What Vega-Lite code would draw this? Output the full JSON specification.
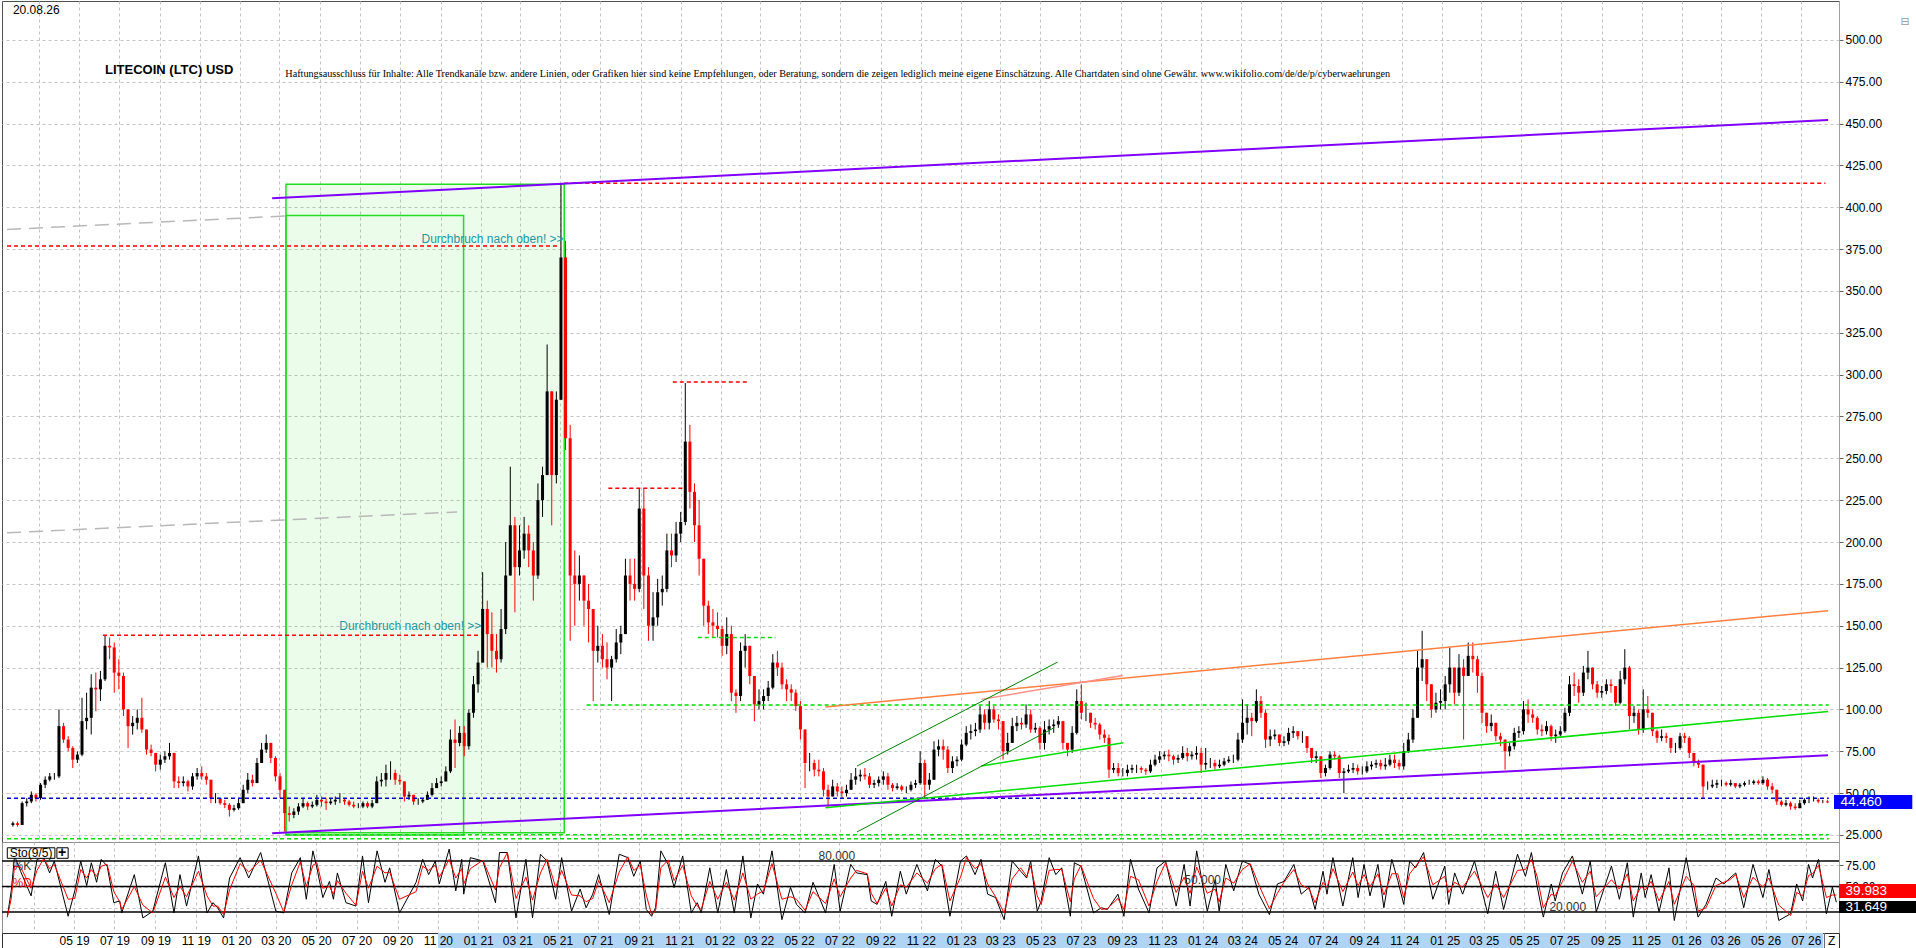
{
"$schema": "https://vega.github.io/schema/vega-lite/v6.json",
"description": "Litecoin (LTC) USD, weekly candles with trend lines and a 9/5 stochastic panel.",
"padding": 0,
"autosize": {"type": "pad"},
"background": "white",
"config": {
  "text": {"font": "Liberation Sans"},
  "axis": {"labelFont": "Liberation Sans", "labelColor": "black", "labelFontSize": 12, "gridColor": "#c4c4c4", "gridDash": [3, 3], "domainColor": "#a0a0a0", "tickColor": "#606060"}
},
"datasets": {
"px": [
{"t":"2019-01-21","o":31,"h":33,"l":30,"c":32},{"t":"2019-01-28","o":32,"h":33,"l":30,"c":31},{"t":"2019-02-04","o":31,"h":45,"l":31,"c":44},{"t":"2019-02-11","o":44,"h":47,"l":42,"c":45},
{"t":"2019-02-18","o":45,"h":51,"l":44,"c":49},{"t":"2019-02-25","o":49,"h":50,"l":45,"c":47},{"t":"2019-03-04","o":47,"h":56,"l":46,"c":55},{"t":"2019-03-11","o":55,"h":60,"l":53,"c":58},
{"t":"2019-03-18","o":58,"h":62,"l":57,"c":60},{"t":"2019-03-25","o":60,"h":62,"l":58,"c":60},{"t":"2019-04-01","o":60,"h":100,"l":59,"c":90},{"t":"2019-04-08","o":90,"h":92,"l":80,"c":82},
{"t":"2019-04-15","o":82,"h":84,"l":75,"c":77},{"t":"2019-04-22","o":77,"h":78,"l":65,"c":70},{"t":"2019-04-29","o":70,"h":75,"l":68,"c":73},{"t":"2019-05-06","o":73,"h":107,"l":72,"c":93},
{"t":"2019-05-13","o":93,"h":110,"l":88,"c":95},{"t":"2019-05-20","o":95,"h":121,"l":85,"c":113},{"t":"2019-05-27","o":113,"h":122,"l":99,"c":112},{"t":"2019-06-03","o":112,"h":123,"l":105,"c":118},
{"t":"2019-06-10","o":118,"h":144,"l":117,"c":138},{"t":"2019-06-17","o":138,"h":143,"l":130,"c":137},{"t":"2019-06-24","o":137,"h":140,"l":110,"c":122},{"t":"2019-07-01","o":122,"h":130,"l":112,"c":120},
{"t":"2019-07-08","o":120,"h":122,"l":96,"c":100},{"t":"2019-07-15","o":100,"h":100,"l":77,"c":90},{"t":"2019-07-22","o":90,"h":96,"l":85,"c":92},{"t":"2019-07-29","o":92,"h":100,"l":88,"c":95},
{"t":"2019-08-05","o":95,"h":107,"l":86,"c":88},{"t":"2019-08-12","o":88,"h":88,"l":73,"c":76},{"t":"2019-08-19","o":76,"h":79,"l":72,"c":74},{"t":"2019-08-26","o":74,"h":74,"l":63,"c":67},
{"t":"2019-09-02","o":67,"h":73,"l":64,"c":70},{"t":"2019-09-09","o":70,"h":75,"l":68,"c":72},{"t":"2019-09-16","o":72,"h":80,"l":70,"c":74},{"t":"2019-09-23","o":74,"h":74,"l":53,"c":57},
{"t":"2019-09-30","o":57,"h":60,"l":53,"c":56},{"t":"2019-10-07","o":56,"h":60,"l":54,"c":57},{"t":"2019-10-14","o":57,"h":58,"l":51,"c":54},{"t":"2019-10-21","o":54,"h":62,"l":52,"c":60},
{"t":"2019-10-28","o":60,"h":65,"l":58,"c":62},{"t":"2019-11-04","o":62,"h":66,"l":58,"c":60},{"t":"2019-11-11","o":60,"h":62,"l":55,"c":58},{"t":"2019-11-18","o":58,"h":58,"l":44,"c":47},
{"t":"2019-11-25","o":47,"h":50,"l":44,"c":47},{"t":"2019-12-02","o":47,"h":47,"l":43,"c":44},{"t":"2019-12-09","o":44,"h":46,"l":41,"c":43},{"t":"2019-12-16","o":43,"h":44,"l":36,"c":40},
{"t":"2019-12-23","o":40,"h":43,"l":39,"c":41},{"t":"2019-12-30","o":41,"h":47,"l":40,"c":44},{"t":"2020-01-06","o":44,"h":55,"l":44,"c":52},{"t":"2020-01-13","o":52,"h":62,"l":50,"c":58},
{"t":"2020-01-20","o":58,"h":61,"l":54,"c":56},{"t":"2020-01-27","o":56,"h":71,"l":56,"c":68},{"t":"2020-02-03","o":68,"h":80,"l":68,"c":76},{"t":"2020-02-10","o":76,"h":85,"l":74,"c":80},
{"t":"2020-02-17","o":80,"h":80,"l":68,"c":71},{"t":"2020-02-24","o":71,"h":72,"l":57,"c":60},{"t":"2020-03-02","o":60,"h":62,"l":47,"c":52},{"t":"2020-03-09","o":52,"h":52,"l":27,"c":38},
{"t":"2020-03-16","o":38,"h":42,"l":33,"c":37},{"t":"2020-03-23","o":37,"h":41,"l":35,"c":39},{"t":"2020-03-30","o":39,"h":44,"l":37,"c":42},{"t":"2020-04-06","o":42,"h":47,"l":41,"c":44},
{"t":"2020-04-13","o":44,"h":45,"l":40,"c":42},{"t":"2020-04-20","o":42,"h":45,"l":41,"c":43},{"t":"2020-04-27","o":43,"h":49,"l":42,"c":46},{"t":"2020-05-04","o":46,"h":48,"l":42,"c":45},
{"t":"2020-05-11","o":45,"h":47,"l":40,"c":44},{"t":"2020-05-18","o":44,"h":47,"l":43,"c":45},{"t":"2020-05-25","o":45,"h":48,"l":43,"c":46},{"t":"2020-06-01","o":46,"h":50,"l":44,"c":46},
{"t":"2020-06-08","o":46,"h":47,"l":43,"c":45},{"t":"2020-06-15","o":45,"h":46,"l":42,"c":43},{"t":"2020-06-22","o":43,"h":45,"l":41,"c":42},{"t":"2020-06-29","o":42,"h":44,"l":41,"c":42},
{"t":"2020-07-06","o":42,"h":45,"l":41,"c":44},{"t":"2020-07-13","o":44,"h":45,"l":41,"c":42},{"t":"2020-07-20","o":42,"h":46,"l":41,"c":44},{"t":"2020-07-27","o":44,"h":60,"l":44,"c":57},
{"t":"2020-08-03","o":57,"h":62,"l":54,"c":58},{"t":"2020-08-10","o":58,"h":67,"l":54,"c":62},{"t":"2020-08-17","o":62,"h":69,"l":58,"c":62},{"t":"2020-08-24","o":62,"h":64,"l":55,"c":58},
{"t":"2020-08-31","o":58,"h":61,"l":55,"c":57},{"t":"2020-09-07","o":57,"h":57,"l":45,"c":48},{"t":"2020-09-14","o":48,"h":51,"l":46,"c":49},{"t":"2020-09-21","o":49,"h":49,"l":43,"c":45},
{"t":"2020-09-28","o":45,"h":47,"l":43,"c":45},{"t":"2020-10-05","o":45,"h":47,"l":44,"c":46},{"t":"2020-10-12","o":46,"h":51,"l":46,"c":49},{"t":"2020-10-19","o":49,"h":56,"l":48,"c":53},
{"t":"2020-10-26","o":53,"h":59,"l":53,"c":56},{"t":"2020-11-02","o":56,"h":60,"l":54,"c":57},{"t":"2020-11-09","o":57,"h":66,"l":57,"c":63},{"t":"2020-11-16","o":63,"h":88,"l":62,"c":82},
{"t":"2020-11-23","o":82,"h":94,"l":65,"c":80},{"t":"2020-11-30","o":80,"h":90,"l":78,"c":86},{"t":"2020-12-07","o":86,"h":90,"l":72,"c":78},{"t":"2020-12-14","o":78,"h":100,"l":76,"c":98},
{"t":"2020-12-21","o":98,"h":120,"l":95,"c":115},{"t":"2020-12-28","o":115,"h":135,"l":110,"c":128},{"t":"2021-01-04","o":128,"h":182,"l":128,"c":160},{"t":"2021-01-11","o":160,"h":165,"l":125,"c":145},
{"t":"2021-01-18","o":145,"h":158,"l":125,"c":135},{"t":"2021-01-25","o":135,"h":145,"l":122,"c":130},{"t":"2021-02-01","o":130,"h":160,"l":128,"c":148},{"t":"2021-02-08","o":148,"h":200,"l":145,"c":180},
{"t":"2021-02-15","o":180,"h":245,"l":180,"c":210},{"t":"2021-02-22","o":210,"h":215,"l":158,"c":185},{"t":"2021-03-01","o":185,"h":210,"l":180,"c":195},{"t":"2021-03-08","o":195,"h":215,"l":190,"c":205},
{"t":"2021-03-15","o":205,"h":210,"l":185,"c":195},{"t":"2021-03-22","o":195,"h":200,"l":165,"c":180},{"t":"2021-03-29","o":180,"h":235,"l":178,"c":225},{"t":"2021-04-05","o":225,"h":245,"l":215,"c":240},
{"t":"2021-04-12","o":240,"h":318,"l":240,"c":290},{"t":"2021-04-19","o":290,"h":290,"l":210,"c":240},{"t":"2021-04-26","o":240,"h":290,"l":235,"c":285},{"t":"2021-05-03","o":285,"h":414,"l":285,"c":370},
{"t":"2021-05-10","o":370,"h":380,"l":255,"c":262},{"t":"2021-05-17","o":262,"h":270,"l":141,"c":180},{"t":"2021-05-24","o":180,"h":195,"l":150,"c":175},{"t":"2021-05-31","o":175,"h":192,"l":165,"c":180},
{"t":"2021-06-07","o":180,"h":180,"l":150,"c":165},{"t":"2021-06-14","o":165,"h":175,"l":140,"c":160},{"t":"2021-06-21","o":160,"h":160,"l":105,"c":135},{"t":"2021-06-28","o":135,"h":150,"l":128,"c":138},
{"t":"2021-07-05","o":138,"h":145,"l":125,"c":130},{"t":"2021-07-12","o":130,"h":140,"l":118,"c":125},{"t":"2021-07-19","o":125,"h":132,"l":105,"c":130},{"t":"2021-07-26","o":130,"h":148,"l":128,"c":140},
{"t":"2021-08-02","o":140,"h":150,"l":133,"c":145},{"t":"2021-08-09","o":145,"h":190,"l":145,"c":180},{"t":"2021-08-16","o":180,"h":190,"l":165,"c":175},{"t":"2021-08-23","o":175,"h":190,"l":165,"c":172},
{"t":"2021-08-30","o":172,"h":232,"l":170,"c":220},{"t":"2021-09-06","o":220,"h":232,"l":160,"c":180},{"t":"2021-09-13","o":180,"h":185,"l":141,"c":150},{"t":"2021-09-20","o":150,"h":170,"l":141,"c":155},
{"t":"2021-09-27","o":155,"h":178,"l":150,"c":170},{"t":"2021-10-04","o":170,"h":180,"l":162,"c":172},{"t":"2021-10-11","o":172,"h":205,"l":170,"c":195},{"t":"2021-10-18","o":195,"h":205,"l":185,"c":192},
{"t":"2021-10-25","o":192,"h":212,"l":188,"c":205},{"t":"2021-11-01","o":205,"h":218,"l":200,"c":212},{"t":"2021-11-08","o":212,"h":295,"l":210,"c":260},{"t":"2021-11-15","o":260,"h":270,"l":220,"c":230},
{"t":"2021-11-22","o":230,"h":235,"l":200,"c":210},{"t":"2021-11-29","o":210,"h":225,"l":180,"c":190},{"t":"2021-12-06","o":190,"h":190,"l":150,"c":162},{"t":"2021-12-13","o":162,"h":165,"l":145,"c":152},
{"t":"2021-12-20","o":152,"h":160,"l":143,"c":150},{"t":"2021-12-27","o":150,"h":158,"l":143,"c":148},{"t":"2022-01-03","o":148,"h":150,"l":132,"c":138},{"t":"2022-01-10","o":138,"h":155,"l":133,"c":145},
{"t":"2022-01-17","o":145,"h":150,"l":105,"c":110},{"t":"2022-01-24","o":110,"h":112,"l":98,"c":108},{"t":"2022-01-31","o":108,"h":140,"l":105,"c":135},{"t":"2022-02-07","o":135,"h":145,"l":125,"c":138},
{"t":"2022-02-14","o":138,"h":138,"l":115,"c":120},{"t":"2022-02-21","o":120,"h":120,"l":93,"c":103},{"t":"2022-02-28","o":103,"h":112,"l":100,"c":105},{"t":"2022-03-07","o":105,"h":112,"l":100,"c":108},
{"t":"2022-03-14","o":108,"h":117,"l":105,"c":113},{"t":"2022-03-21","o":113,"h":133,"l":112,"c":128},{"t":"2022-03-28","o":128,"h":135,"l":120,"c":125},{"t":"2022-04-04","o":125,"h":128,"l":112,"c":115},
{"t":"2022-04-11","o":115,"h":118,"l":105,"c":112},{"t":"2022-04-18","o":112,"h":115,"l":105,"c":110},{"t":"2022-04-25","o":110,"h":112,"l":99,"c":102},{"t":"2022-05-02","o":102,"h":105,"l":82,"c":88},
{"t":"2022-05-09","o":88,"h":88,"l":53,"c":68},{"t":"2022-05-16","o":68,"h":74,"l":63,"c":68},{"t":"2022-05-23","o":68,"h":70,"l":60,"c":64},{"t":"2022-05-30","o":64,"h":70,"l":60,"c":63},
{"t":"2022-06-06","o":63,"h":65,"l":48,"c":52},{"t":"2022-06-13","o":52,"h":55,"l":41,"c":48},{"t":"2022-06-20","o":48,"h":58,"l":48,"c":54},{"t":"2022-06-27","o":54,"h":56,"l":48,"c":51},
{"t":"2022-07-04","o":51,"h":54,"l":47,"c":50},{"t":"2022-07-11","o":50,"h":55,"l":48,"c":52},{"t":"2022-07-18","o":52,"h":62,"l":52,"c":58},{"t":"2022-07-25","o":58,"h":65,"l":55,"c":60},
{"t":"2022-08-01","o":60,"h":64,"l":57,"c":61},{"t":"2022-08-08","o":61,"h":65,"l":58,"c":60},{"t":"2022-08-15","o":60,"h":62,"l":53,"c":55},{"t":"2022-08-22","o":55,"h":58,"l":53,"c":56},
{"t":"2022-08-29","o":56,"h":60,"l":54,"c":58},{"t":"2022-09-05","o":58,"h":63,"l":55,"c":60},{"t":"2022-09-12","o":60,"h":62,"l":52,"c":55},{"t":"2022-09-19","o":55,"h":56,"l":51,"c":53},
{"t":"2022-09-26","o":53,"h":56,"l":52,"c":54},{"t":"2022-10-03","o":54,"h":55,"l":51,"c":52},{"t":"2022-10-10","o":52,"h":54,"l":50,"c":52},{"t":"2022-10-17","o":52,"h":57,"l":51,"c":55},
{"t":"2022-10-24","o":55,"h":58,"l":53,"c":56},{"t":"2022-10-31","o":56,"h":75,"l":55,"c":68},{"t":"2022-11-07","o":68,"h":70,"l":47,"c":55},{"t":"2022-11-14","o":55,"h":62,"l":52,"c":58},
{"t":"2022-11-21","o":58,"h":81,"l":58,"c":76},{"t":"2022-11-28","o":76,"h":82,"l":72,"c":78},{"t":"2022-12-05","o":78,"h":82,"l":70,"c":76},{"t":"2022-12-12","o":76,"h":78,"l":62,"c":65},
{"t":"2022-12-19","o":65,"h":72,"l":62,"c":69},{"t":"2022-12-26","o":69,"h":72,"l":66,"c":70},{"t":"2023-01-02","o":70,"h":82,"l":69,"c":79},{"t":"2023-01-09","o":79,"h":90,"l":78,"c":86},
{"t":"2023-01-16","o":86,"h":91,"l":82,"c":87},{"t":"2023-01-23","o":87,"h":92,"l":84,"c":88},{"t":"2023-01-30","o":88,"h":102,"l":86,"c":97},{"t":"2023-02-06","o":97,"h":100,"l":88,"c":92},
{"t":"2023-02-13","o":92,"h":105,"l":88,"c":100},{"t":"2023-02-20","o":100,"h":102,"l":92,"c":94},{"t":"2023-02-27","o":94,"h":97,"l":88,"c":93},{"t":"2023-03-06","o":93,"h":93,"l":70,"c":75},
{"t":"2023-03-13","o":75,"h":86,"l":73,"c":80},{"t":"2023-03-20","o":80,"h":95,"l":80,"c":90},{"t":"2023-03-27","o":90,"h":96,"l":87,"c":92},{"t":"2023-04-03","o":92,"h":95,"l":88,"c":91},
{"t":"2023-04-10","o":91,"h":103,"l":89,"c":97},{"t":"2023-04-17","o":97,"h":100,"l":86,"c":88},{"t":"2023-04-24","o":88,"h":92,"l":86,"c":89},{"t":"2023-05-01","o":89,"h":90,"l":76,"c":80},
{"t":"2023-05-08","o":80,"h":93,"l":76,"c":88},{"t":"2023-05-15","o":88,"h":94,"l":85,"c":90},{"t":"2023-05-22","o":90,"h":94,"l":86,"c":91},{"t":"2023-05-29","o":91,"h":96,"l":89,"c":93},
{"t":"2023-06-05","o":93,"h":93,"l":76,"c":80},{"t":"2023-06-12","o":80,"h":80,"l":72,"c":76},{"t":"2023-06-19","o":76,"h":90,"l":74,"c":86},{"t":"2023-06-26","o":86,"h":112,"l":85,"c":105},
{"t":"2023-07-03","o":105,"h":115,"l":94,"c":98},{"t":"2023-07-10","o":98,"h":104,"l":93,"c":98},{"t":"2023-07-17","o":98,"h":98,"l":89,"c":92},{"t":"2023-07-24","o":92,"h":95,"l":88,"c":91},
{"t":"2023-07-31","o":91,"h":92,"l":82,"c":85},{"t":"2023-08-07","o":85,"h":88,"l":80,"c":83},{"t":"2023-08-14","o":83,"h":85,"l":59,"c":64},{"t":"2023-08-21","o":64,"h":68,"l":62,"c":65},
{"t":"2023-08-28","o":65,"h":68,"l":60,"c":62},{"t":"2023-09-04","o":62,"h":65,"l":60,"c":62},{"t":"2023-09-11","o":62,"h":67,"l":60,"c":64},{"t":"2023-09-18","o":64,"h":67,"l":62,"c":65},
{"t":"2023-09-25","o":65,"h":67,"l":62,"c":65},{"t":"2023-10-02","o":65,"h":66,"l":62,"c":64},{"t":"2023-10-09","o":64,"h":65,"l":61,"c":63},{"t":"2023-10-16","o":63,"h":70,"l":62,"c":67},
{"t":"2023-10-23","o":67,"h":73,"l":66,"c":70},{"t":"2023-10-30","o":70,"h":75,"l":68,"c":72},{"t":"2023-11-06","o":72,"h":75,"l":70,"c":73},{"t":"2023-11-13","o":73,"h":76,"l":69,"c":72},
{"t":"2023-11-20","o":72,"h":73,"l":67,"c":70},{"t":"2023-11-27","o":70,"h":73,"l":68,"c":71},{"t":"2023-12-04","o":71,"h":78,"l":70,"c":74},{"t":"2023-12-11","o":74,"h":77,"l":69,"c":72},
{"t":"2023-12-18","o":72,"h":75,"l":70,"c":73},{"t":"2023-12-25","o":73,"h":78,"l":70,"c":74},{"t":"2024-01-01","o":74,"h":77,"l":62,"c":67},{"t":"2024-01-08","o":67,"h":77,"l":64,"c":68},
{"t":"2024-01-15","o":68,"h":71,"l":65,"c":68},{"t":"2024-01-22","o":68,"h":70,"l":64,"c":66},{"t":"2024-01-29","o":66,"h":70,"l":65,"c":67},{"t":"2024-02-05","o":67,"h":71,"l":66,"c":69},
{"t":"2024-02-12","o":69,"h":72,"l":68,"c":70},{"t":"2024-02-19","o":70,"h":73,"l":68,"c":70},{"t":"2024-02-26","o":70,"h":86,"l":69,"c":82},{"t":"2024-03-04","o":82,"h":106,"l":80,"c":92},
{"t":"2024-03-11","o":92,"h":103,"l":85,"c":95},{"t":"2024-03-18","o":95,"h":98,"l":84,"c":93},{"t":"2024-03-25","o":93,"h":112,"l":92,"c":105},{"t":"2024-04-01","o":105,"h":108,"l":95,"c":98},
{"t":"2024-04-08","o":98,"h":100,"l":77,"c":82},{"t":"2024-04-15","o":82,"h":88,"l":78,"c":84},{"t":"2024-04-22","o":84,"h":88,"l":82,"c":85},{"t":"2024-04-29","o":85,"h":85,"l":78,"c":80},
{"t":"2024-05-06","o":80,"h":84,"l":78,"c":81},{"t":"2024-05-13","o":81,"h":89,"l":79,"c":86},{"t":"2024-05-20","o":86,"h":90,"l":83,"c":87},{"t":"2024-05-27","o":87,"h":87,"l":82,"c":84},
{"t":"2024-06-03","o":84,"h":87,"l":80,"c":84},{"t":"2024-06-10","o":84,"h":84,"l":74,"c":77},{"t":"2024-06-17","o":77,"h":77,"l":68,"c":71},{"t":"2024-06-24","o":71,"h":75,"l":68,"c":72},
{"t":"2024-07-01","o":72,"h":72,"l":59,"c":62},{"t":"2024-07-08","o":62,"h":67,"l":60,"c":65},{"t":"2024-07-15","o":65,"h":75,"l":64,"c":73},{"t":"2024-07-22","o":73,"h":75,"l":70,"c":72},
{"t":"2024-07-29","o":72,"h":73,"l":59,"c":62},{"t":"2024-08-05","o":62,"h":65,"l":50,"c":63},{"t":"2024-08-12","o":63,"h":67,"l":62,"c":64},{"t":"2024-08-19","o":64,"h":68,"l":62,"c":65},
{"t":"2024-08-26","o":65,"h":67,"l":61,"c":63},{"t":"2024-09-02","o":63,"h":66,"l":61,"c":63},{"t":"2024-09-09","o":63,"h":69,"l":62,"c":66},{"t":"2024-09-16","o":66,"h":69,"l":64,"c":67},
{"t":"2024-09-23","o":67,"h":70,"l":65,"c":68},{"t":"2024-09-30","o":68,"h":70,"l":64,"c":66},{"t":"2024-10-07","o":66,"h":71,"l":64,"c":67},{"t":"2024-10-14","o":67,"h":73,"l":66,"c":70},
{"t":"2024-10-21","o":70,"h":73,"l":65,"c":68},{"t":"2024-10-28","o":68,"h":70,"l":64,"c":66},{"t":"2024-11-04","o":66,"h":80,"l":64,"c":75},{"t":"2024-11-11","o":75,"h":86,"l":74,"c":82},
{"t":"2024-11-18","o":82,"h":100,"l":80,"c":95},{"t":"2024-11-25","o":95,"h":135,"l":95,"c":125},{"t":"2024-12-02","o":125,"h":147,"l":117,"c":130},{"t":"2024-12-09","o":130,"h":130,"l":105,"c":115},
{"t":"2024-12-16","o":115,"h":115,"l":95,"c":100},{"t":"2024-12-23","o":100,"h":110,"l":98,"c":104},{"t":"2024-12-30","o":104,"h":112,"l":100,"c":105},{"t":"2025-01-06","o":105,"h":120,"l":100,"c":115},
{"t":"2025-01-13","o":115,"h":137,"l":110,"c":125},{"t":"2025-01-20","o":125,"h":125,"l":103,"c":110},{"t":"2025-01-27","o":110,"h":133,"l":108,"c":125},{"t":"2025-02-03","o":125,"h":130,"l":82,"c":120},
{"t":"2025-02-10","o":120,"h":140,"l":120,"c":132},{"t":"2025-02-17","o":132,"h":140,"l":122,"c":130},{"t":"2025-02-24","o":130,"h":132,"l":110,"c":120},{"t":"2025-03-03","o":120,"h":122,"l":92,"c":98},
{"t":"2025-03-10","o":98,"h":98,"l":86,"c":90},{"t":"2025-03-17","o":90,"h":97,"l":87,"c":92},{"t":"2025-03-24","o":92,"h":92,"l":81,"c":84},{"t":"2025-03-31","o":84,"h":86,"l":78,"c":82},
{"t":"2025-04-07","o":82,"h":82,"l":64,"c":75},{"t":"2025-04-14","o":75,"h":80,"l":72,"c":78},{"t":"2025-04-21","o":78,"h":89,"l":76,"c":86},{"t":"2025-04-28","o":86,"h":90,"l":83,"c":87},
{"t":"2025-05-05","o":87,"h":105,"l":85,"c":100},{"t":"2025-05-12","o":100,"h":106,"l":92,"c":97},{"t":"2025-05-19","o":97,"h":100,"l":92,"c":95},{"t":"2025-05-26","o":95,"h":96,"l":85,"c":88},
{"t":"2025-06-02","o":88,"h":91,"l":84,"c":87},{"t":"2025-06-09","o":87,"h":93,"l":85,"c":90},{"t":"2025-06-16","o":90,"h":91,"l":81,"c":84},{"t":"2025-06-23","o":84,"h":88,"l":80,"c":85},
{"t":"2025-06-30","o":85,"h":90,"l":84,"c":87},{"t":"2025-07-07","o":87,"h":101,"l":86,"c":98},{"t":"2025-07-14","o":98,"h":120,"l":96,"c":115},{"t":"2025-07-21","o":115,"h":122,"l":108,"c":114},
{"t":"2025-07-28","o":114,"h":118,"l":104,"c":110},{"t":"2025-08-04","o":110,"h":126,"l":108,"c":122},{"t":"2025-08-11","o":122,"h":135,"l":118,"c":125},{"t":"2025-08-18","o":125,"h":125,"l":112,"c":115},
{"t":"2025-08-25","o":115,"h":117,"l":107,"c":110},{"t":"2025-09-01","o":110,"h":114,"l":107,"c":111},{"t":"2025-09-08","o":111,"h":118,"l":109,"c":115},{"t":"2025-09-15","o":115,"h":118,"l":110,"c":114},
{"t":"2025-09-22","o":114,"h":114,"l":102,"c":104},{"t":"2025-09-29","o":104,"h":123,"l":103,"c":118},{"t":"2025-10-06","o":118,"h":136,"l":115,"c":125},{"t":"2025-10-13","o":125,"h":126,"l":88,"c":96},
{"t":"2025-10-20","o":96,"h":102,"l":92,"c":98},{"t":"2025-10-27","o":98,"h":100,"l":85,"c":88},{"t":"2025-11-03","o":88,"h":112,"l":86,"c":100},{"t":"2025-11-10","o":100,"h":108,"l":95,"c":98},
{"t":"2025-11-17","o":98,"h":98,"l":84,"c":87},{"t":"2025-11-24","o":87,"h":88,"l":80,"c":83},{"t":"2025-12-01","o":83,"h":88,"l":81,"c":84},{"t":"2025-12-08","o":84,"h":86,"l":80,"c":83},
{"t":"2025-12-15","o":83,"h":83,"l":74,"c":77},{"t":"2025-12-22","o":77,"h":80,"l":74,"c":77},{"t":"2025-12-29","o":77,"h":86,"l":76,"c":84},{"t":"2026-01-05","o":84,"h":86,"l":80,"c":83},
{"t":"2026-01-12","o":83,"h":84,"l":71,"c":74},{"t":"2026-01-19","o":74,"h":74,"l":66,"c":68},{"t":"2026-01-26","o":68,"h":70,"l":65,"c":67},{"t":"2026-02-02","o":67,"h":67,"l":47,"c":54},
{"t":"2026-02-09","o":54,"h":57,"l":52,"c":54},{"t":"2026-02-16","o":54,"h":58,"l":53,"c":55},{"t":"2026-02-23","o":55,"h":58,"l":53,"c":56},{"t":"2026-03-02","o":56,"h":58,"l":54,"c":56},
{"t":"2026-03-09","o":56,"h":57,"l":54,"c":55},{"t":"2026-03-16","o":55,"h":58,"l":54,"c":56},{"t":"2026-03-23","o":56,"h":56,"l":53,"c":54},{"t":"2026-03-30","o":54,"h":56,"l":53,"c":55},
{"t":"2026-04-06","o":55,"h":57,"l":54,"c":56},{"t":"2026-04-13","o":56,"h":58,"l":55,"c":56},{"t":"2026-04-20","o":56,"h":58,"l":55,"c":57},{"t":"2026-04-27","o":57,"h":58,"l":55,"c":56},
{"t":"2026-05-04","o":56,"h":60,"l":55,"c":58},{"t":"2026-05-11","o":58,"h":59,"l":52,"c":54},{"t":"2026-05-18","o":54,"h":56,"l":50,"c":52},{"t":"2026-05-25","o":52,"h":52,"l":43,"c":45},
{"t":"2026-06-01","o":45,"h":46,"l":42,"c":43},{"t":"2026-06-08","o":43,"h":46,"l":42,"c":44},{"t":"2026-06-15","o":44,"h":45,"l":40,"c":42},{"t":"2026-06-22","o":42,"h":44,"l":40,"c":41},
{"t":"2026-06-29","o":41,"h":46,"l":41,"c":44},{"t":"2026-07-06","o":44,"h":47,"l":43,"c":46},{"t":"2026-07-13","o":46,"h":48,"l":44,"c":46},{"t":"2026-07-20","o":46,"h":48,"l":45,"c":46},
{"t":"2026-07-27","o":46,"h":47,"l":44,"c":45},{"t":"2026-08-03","o":45,"h":46,"l":44,"c":45},{"t":"2026-08-10","o":45,"h":46,"l":44,"c":44.46}
],
"sto": [
{"t":"2019-01-20","k":14,"d":14},{"t":"2019-01-26","k":45,"d":36},{"t":"2019-01-31","k":86,"d":74},{"t":"2019-02-09","k":68,"d":73},{"t":"2019-02-25","k":39,"d":48},{"t":"2019-03-06","k":82,"d":69},
{"t":"2019-03-16","k":84,"d":83},{"t":"2019-03-25","k":66,"d":71},{"t":"2019-04-01","k":80,"d":76},{"t":"2019-04-22","k":15,"d":35},{"t":"2019-05-02","k":45,"d":36},{"t":"2019-05-11","k":80,"d":70},
{"t":"2019-05-20","k":51,"d":60},{"t":"2019-05-27","k":78,"d":70},{"t":"2019-06-04","k":55,"d":62},{"t":"2019-06-11","k":82,"d":74},{"t":"2019-06-20","k":74,"d":76},{"t":"2019-06-30","k":31,"d":44},
{"t":"2019-07-09","k":33,"d":32},{"t":"2019-07-12","k":19,"d":23},{"t":"2019-07-31","k":64,"d":50},{"t":"2019-08-13","k":13,"d":28},{"t":"2019-08-28","k":21,"d":19},{"t":"2019-09-16","k":78,"d":61},
{"t":"2019-09-29","k":19,"d":37},{"t":"2019-10-08","k":64,"d":50},{"t":"2019-10-18","k":27,"d":38},{"t":"2019-11-05","k":86,"d":68},{"t":"2019-11-18","k":19,"d":39},{"t":"2019-11-27","k":31,"d":27},
{"t":"2019-12-04","k":25,"d":27},{"t":"2019-12-13","k":13,"d":17},{"t":"2019-12-22","k":60,"d":46},{"t":"2020-01-07","k":84,"d":77},{"t":"2020-01-20","k":60,"d":67},{"t":"2020-02-07","k":90,"d":81},
{"t":"2020-03-01","k":21,"d":42},{"t":"2020-03-13","k":19,"d":20},{"t":"2020-03-25","k":66,"d":52},{"t":"2020-04-07","k":84,"d":79},{"t":"2020-04-16","k":35,"d":50},{"t":"2020-04-26","k":92,"d":75},
{"t":"2020-05-02","k":72,"d":78},{"t":"2020-05-11","k":37,"d":48},{"t":"2020-05-21","k":56,"d":50},{"t":"2020-05-27","k":35,"d":41},{"t":"2020-06-02","k":66,"d":57},{"t":"2020-06-15","k":31,"d":42},
{"t":"2020-06-30","k":27,"d":28},{"t":"2020-07-10","k":86,"d":68},{"t":"2020-07-19","k":31,"d":48},{"t":"2020-08-01","k":92,"d":74},{"t":"2020-08-13","k":55,"d":66},{"t":"2020-08-20","k":72,"d":67},
{"t":"2020-09-04","k":19,"d":35},{"t":"2020-09-29","k":55,"d":44},{"t":"2020-10-09","k":82,"d":74},{"t":"2020-10-18","k":64,"d":69},{"t":"2020-10-28","k":80,"d":75},{"t":"2020-11-03","k":53,"d":61},
{"t":"2020-11-18","k":94,"d":82},{"t":"2020-11-28","k":45,"d":60},{"t":"2020-12-07","k":82,"d":71},{"t":"2020-12-10","k":41,"d":53},{"t":"2020-12-20","k":84,"d":71},{"t":"2021-01-08","k":80,"d":81},
{"t":"2021-01-27","k":31,"d":46},{"t":"2021-02-02","k":90,"d":72},{"t":"2021-02-14","k":90,"d":90},{"t":"2021-02-27","k":13,"d":36},{"t":"2021-03-14","k":82,"d":61},{"t":"2021-03-24","k":13,"d":34},
{"t":"2021-04-05","k":88,"d":66},{"t":"2021-04-15","k":80,"d":82},{"t":"2021-04-28","k":35,"d":49},{"t":"2021-05-07","k":84,"d":69},{"t":"2021-05-22","k":21,"d":40},{"t":"2021-06-04","k":47,"d":39},
{"t":"2021-06-13","k":25,"d":32},{"t":"2021-06-23","k":41,"d":36},{"t":"2021-07-02","k":64,"d":57},{"t":"2021-07-18","k":17,"d":31},{"t":"2021-08-02","k":88,"d":67},{"t":"2021-08-15","k":84,"d":85},
{"t":"2021-08-24","k":62,"d":69},{"t":"2021-09-03","k":80,"d":75},{"t":"2021-09-12","k":23,"d":40},{"t":"2021-09-20","k":15,"d":17},{"t":"2021-09-26","k":25,"d":22},{"t":"2021-10-04","k":92,"d":72},
{"t":"2021-10-15","k":76,"d":81},{"t":"2021-10-24","k":49,"d":57},{"t":"2021-11-06","k":86,"d":75},{"t":"2021-11-19","k":19,"d":39},{"t":"2021-11-28","k":31,"d":27},{"t":"2021-12-04","k":19,"d":23},
{"t":"2021-12-17","k":72,"d":56},{"t":"2021-12-29","k":19,"d":35},{"t":"2022-01-11","k":70,"d":55},{"t":"2022-01-23","k":19,"d":34},{"t":"2022-02-05","k":86,"d":66},{"t":"2022-02-17","k":13,"d":35},
{"t":"2022-02-27","k":53,"d":41},{"t":"2022-03-08","k":41,"d":45},{"t":"2022-03-21","k":92,"d":77},{"t":"2022-04-05","k":11,"d":35},{"t":"2022-04-18","k":49,"d":38},{"t":"2022-04-27","k":29,"d":35},
{"t":"2022-05-10","k":19,"d":22},{"t":"2022-05-22","k":55,"d":44},{"t":"2022-06-10","k":19,"d":30},{"t":"2022-06-23","k":76,"d":59},{"t":"2022-07-02","k":21,"d":38},{"t":"2022-07-18","k":76,"d":60},
{"t":"2022-07-27","k":66,"d":69},{"t":"2022-08-12","k":64,"d":65},{"t":"2022-08-18","k":33,"d":42},{"t":"2022-08-27","k":29,"d":30},{"t":"2022-09-09","k":56,"d":48},{"t":"2022-09-18","k":15,"d":27},
{"t":"2022-10-01","k":68,"d":52},{"t":"2022-10-10","k":41,"d":49},{"t":"2022-10-26","k":76,"d":66},{"t":"2022-11-11","k":45,"d":54},{"t":"2022-11-23","k":82,"d":71},{"t":"2022-12-03","k":74,"d":76},
{"t":"2022-12-15","k":15,"d":33},{"t":"2022-12-31","k":80,"d":61},{"t":"2023-01-09","k":86,"d":84},{"t":"2023-01-22","k":64,"d":71},{"t":"2023-01-31","k":82,"d":77},{"t":"2023-02-10","k":41,"d":53},
{"t":"2023-02-22","k":37,"d":38},{"t":"2023-03-07","k":11,"d":19},{"t":"2023-03-19","k":80,"d":59},{"t":"2023-04-01","k":68,"d":72},{"t":"2023-04-10","k":60,"d":62},{"t":"2023-04-16","k":80,"d":74},
{"t":"2023-04-26","k":21,"d":39},{"t":"2023-05-02","k":33,"d":29},{"t":"2023-05-14","k":84,"d":69},{"t":"2023-05-24","k":64,"d":70},{"t":"2023-06-02","k":72,"d":70},{"t":"2023-06-15","k":15,"d":32},
{"t":"2023-06-21","k":78,"d":59},{"t":"2023-07-01","k":74,"d":75},{"t":"2023-07-20","k":19,"d":36},{"t":"2023-08-01","k":25,"d":23},{"t":"2023-08-10","k":23,"d":24},{"t":"2023-08-26","k":41,"d":36},
{"t":"2023-09-04","k":15,"d":23},{"t":"2023-09-14","k":82,"d":62},{"t":"2023-09-26","k":47,"d":58},{"t":"2023-10-12","k":19,"d":27},{"t":"2023-10-24","k":72,"d":56},{"t":"2023-11-06","k":80,"d":78},
{"t":"2023-11-22","k":27,"d":43},{"t":"2023-12-04","k":76,"d":61},{"t":"2023-12-13","k":27,"d":42},{"t":"2023-12-23","k":92,"d":73},{"t":"2024-01-08","k":21,"d":42},{"t":"2024-01-20","k":58,"d":47},
{"t":"2024-01-26","k":21,"d":32},{"t":"2024-02-05","k":76,"d":60},{"t":"2024-02-17","k":45,"d":54},{"t":"2024-03-01","k":80,"d":70},{"t":"2024-03-13","k":76,"d":77},{"t":"2024-03-26","k":41,"d":52},
{"t":"2024-04-11","k":17,"d":24},{"t":"2024-04-23","k":53,"d":42},{"t":"2024-05-03","k":56,"d":55},{"t":"2024-05-18","k":76,"d":70},{"t":"2024-05-29","k":41,"d":52},{"t":"2024-06-10","k":49,"d":47},
{"t":"2024-06-19","k":23,"d":31},{"t":"2024-07-01","k":68,"d":55},{"t":"2024-07-07","k":41,"d":49},{"t":"2024-07-16","k":84,"d":71},{"t":"2024-07-31","k":27,"d":44},{"t":"2024-08-15","k":84,"d":67},
{"t":"2024-08-23","k":37,"d":51},{"t":"2024-09-01","k":76,"d":64},{"t":"2024-09-10","k":39,"d":50},{"t":"2024-09-22","k":76,"d":65},{"t":"2024-10-01","k":25,"d":40},{"t":"2024-10-13","k":82,"d":65},
{"t":"2024-10-22","k":57,"d":65},{"t":"2024-10-31","k":29,"d":37},{"t":"2024-11-09","k":80,"d":65},{"t":"2024-11-18","k":72,"d":74},{"t":"2024-11-30","k":90,"d":85},{"t":"2024-12-14","k":35,"d":52},
{"t":"2025-01-01","k":74,"d":62},{"t":"2025-01-07","k":29,"d":43},{"t":"2025-01-16","k":66,"d":55},{"t":"2025-01-28","k":41,"d":49},{"t":"2025-02-15","k":80,"d":68},{"t":"2025-03-07","k":18,"d":37},
{"t":"2025-03-19","k":68,"d":53},{"t":"2025-03-31","k":23,"d":37},{"t":"2025-04-21","k":88,"d":69},{"t":"2025-05-03","k":62,"d":70},{"t":"2025-05-12","k":90,"d":82},{"t":"2025-05-21","k":49,"d":61},
{"t":"2025-05-30","k":14,"d":25},{"t":"2025-06-11","k":53,"d":41},{"t":"2025-06-17","k":33,"d":39},{"t":"2025-06-28","k":66,"d":56},{"t":"2025-07-13","k":86,"d":80},{"t":"2025-07-28","k":41,"d":55},
{"t":"2025-08-09","k":80,"d":68},{"t":"2025-08-18","k":20,"d":38},{"t":"2025-09-10","k":74,"d":58},{"t":"2025-09-22","k":35,"d":47},{"t":"2025-10-04","k":78,"d":65},{"t":"2025-10-13","k":14,"d":33},
{"t":"2025-10-25","k":66,"d":50},{"t":"2025-10-31","k":37,"d":46},{"t":"2025-11-09","k":64,"d":56},{"t":"2025-11-21","k":20,"d":33},{"t":"2025-12-06","k":72,"d":56},{"t":"2025-12-14","k":10,"d":29},
{"t":"2026-01-01","k":84,"d":62},{"t":"2026-01-13","k":37,"d":51},{"t":"2026-01-19","k":14,"d":21},{"t":"2026-01-31","k":29,"d":25},{"t":"2026-02-15","k":60,"d":51},{"t":"2026-02-27","k":53,"d":55},
{"t":"2026-03-08","k":60,"d":58},{"t":"2026-03-17","k":66,"d":64},{"t":"2026-03-29","k":25,"d":37},{"t":"2026-04-12","k":76,"d":61},{"t":"2026-04-27","k":37,"d":49},{"t":"2026-05-06","k":70,"d":60},
{"t":"2026-05-21","k":10,"d":28},{"t":"2026-06-08","k":18,"d":16},{"t":"2026-06-17","k":53,"d":43},{"t":"2026-06-26","k":33,"d":39},{"t":"2026-07-05","k":76,"d":63},{"t":"2026-07-11","k":60,"d":65},
{"t":"2026-07-20","k":82,"d":75},{"t":"2026-08-01","k":18,"d":37},{"t":"2026-08-10","k":49,"d":40},{"t":"2026-08-16","k":31.6,"d":40}
],
"seg": [
{"id":"P1","g":"pur","t":"2020-02-19","p":405.3},{"id":"P1","g":"pur","t":"2026-08-11","p":452.1},
{"id":"P2","g":"pur","t":"2020-02-19","p":26.0},{"id":"P2","g":"pur","t":"2026-08-11","p":72.6},
{"id":"O1","g":"ora","t":"2022-06-09","p":101.5},{"id":"O1","g":"ora","t":"2026-08-11","p":159.0},
{"id":"S1","g":"sal","t":"2023-02-01","p":106},{"id":"S1","g":"sal","t":"2023-09-04","p":120.3},
{"id":"G1","g":"grn","t":"2022-06-09","p":41.3},{"id":"G1","g":"grn","t":"2026-08-11","p":98.8},
{"id":"G2","g":"grn","t":"2023-02-01","p":66.2},{"id":"G2","g":"grn","t":"2023-09-05","p":80.1},
{"id":"D1","g":"dg","t":"2022-07-27","p":66.2},{"id":"D1","g":"dg","t":"2023-05-28","p":128.3},
{"id":"D2","g":"dg","t":"2022-07-27","p":26.8},{"id":"D2","g":"dg","t":"2023-05-23","p":89.1},
{"id":"R1","g":"red","t":"2021-05-08","p":414.3},{"id":"R1","g":"red","t":"2026-08-07","p":414.3},
{"id":"R2","g":"red","t":"2019-01-12","p":376.8},{"id":"R2","g":"red","t":"2021-05-02","p":376.8},
{"id":"R3","g":"red","t":"2019-06-07","p":144.3},{"id":"R3","g":"red","t":"2020-12-30","p":144.3},
{"id":"R4","g":"red","t":"2021-07-14","p":232.1},{"id":"R4","g":"red","t":"2021-11-04","p":232.1},
{"id":"R5","g":"red","t":"2021-10-20","p":295.6},{"id":"R5","g":"red","t":"2022-02-11","p":295.6},
{"id":"E1","g":"gdot","t":"2021-06-11","p":102.6},{"id":"E1","g":"gdot","t":"2026-08-12","p":102.6},
{"id":"E2","g":"gdot","t":"2021-11-27","p":143},{"id":"E2","g":"gdot","t":"2022-03-25","p":143},
{"id":"E3","g":"gdot","t":"2020-03-11","p":25.2},{"id":"E3","g":"gdot","t":"2026-08-12","p":25.2},
{"id":"E4","g":"gdot","t":"2019-01-12","p":22.7},{"id":"E4","g":"gdot","t":"2026-08-12","p":22.7},
{"id":"B1","g":"blue","t":"2019-01-12","p":46.9},{"id":"B1","g":"blue","t":"2026-08-12","p":46.9},
{"id":"Y1","g":"gray","t":"2019-01-12","p":386.7},{"id":"Y1","g":"gray","t":"2020-03-12","p":394.8},
{"id":"Y2","g":"gray","t":"2019-01-12","p":205.5},{"id":"Y2","g":"gray","t":"2020-11-26","p":218}
],
"box": [
{"g":"gbox1","t":"2020-03-11","t2":"2021-05-08","p":26.3,"p2":413.7},
{"g":"gbox2","t":"2020-03-11","t2":"2020-12-06","p":25,"p2":395},
{"g":"pbox","t":"2026-08-20","t2":"2026-12-17","p":40.5,"p2":48.9}
],
"note": [
{"g":"date","t":"2019-01-21","p":517.8,"s":"20.08.26"},
{"g":"title","t":"2019-06-10","p":481.8,"s":"LITECOIN (LTC) USD"},
{"g":"disc","t":"2020-03-10","p":479.8,"s":"Haftungsausschluss für Inhalte: Alle Trendkanäle bzw. andere Linien, oder Grafiken hier sind keine Empfehlungen, oder Beratung, sondern die zeigen lediglich meine eigene Einschätzung. Alle Chartdaten sind ohne Gewähr.  www.wikifolio.com/de/de/p/cyberwaehrungen"},
{"g":"dbr","t":"2021-05-07","p":381.2,"s":"Durchbruch nach oben! >>"},
{"g":"dbr","t":"2021-01-02","p":149.8,"s":"Durchbruch nach oben! >>"},
{"g":"price","t":"2026-08-30","p":44.7,"s":"44.460"},
{"g":"icon","t":"2026-12-06","p":510.7,"s":"⊟"}
],
"lv": [{"v":80},{"v":50},{"v":20}],
"sbox": [
{"g":"wbox","t":"2019-01-20","t2":"2019-04-02","v":83.2,"v2":95.6},
{"g":"wbox","t":"2019-04-05","t2":"2019-04-22","v":83.2,"v2":95.6},
{"g":"rbox","t":"2026-08-20","t2":"2026-12-17","v":36.5,"v2":52.9},
{"g":"kbox","t":"2026-08-20","t2":"2026-12-17","v":18.8,"v2":32.9}
],
"snote": [
{"g":"lvl","t":"2022-06-27","v":85.9,"s":"80.000"},
{"g":"lvl","t":"2024-01-01","v":57.3,"s":"50.000"},
{"g":"lvl","t":"2025-07-06","v":26.2,"s":"20.000"},
{"g":"sto","t":"2019-02-25","v":89.4,"s":"Sto(9/5)"},
{"g":"plus","t":"2019-04-13","v":89.4,"s":"+"},
{"g":"k","t":"2019-01-28","v":74.1,"s":"%K"},
{"g":"d","t":"2019-01-28","v":54.5,"s":"%D"},
{"g":"val","t":"2026-08-30","v":44.7,"s":"39.983"},
{"g":"val","t":"2026-08-30","v":25.9,"s":"31.649"}
],
"band": [{"t":"2020-11-01","t2":"2026-07-27"}],
"zsep": [{"t":"2026-07-29"}],
"snote2": [{"t":"2026-08-09","s":"Z"}]
},
"vconcat": [
{
  "width": 1837, "height": 841,
  "view": {"stroke": "#505050"},
  "encoding": {
    "x": {"field": "t", "type": "temporal", "title": null,
      "scale": {"type": "utc", "domain": [{"year": 2019, "month": 1, "date": 12, "utc": true}, {"year": 2026, "month": 8, "date": 20, "utc": true}]},
      "axis": {"labels": false, "ticks": false, "domain": false, "grid": true, "tickCount": {"interval": "month", "step": 2}, "minExtent": 0, "maxExtent": 0}}
  },
  "layer": [
    {"data": {"name": "box"}, "transform": [{"filter": "datum.g == 'gbox1'"}],
     "mark": {"type": "rect", "fill": "#22dd22", "fillOpacity": 0.09, "stroke": "#22dd22", "strokeWidth": 1.5},
     "encoding": {"x2": {"field": "t2"},
       "y": {"field": "p", "type": "quantitative", "title": null,
         "scale": {"domain": [20.8, 523.2], "nice": false, "zero": false},
         "axis": {"orient": "right", "values": [25,50,75,100,125,150,175,200,225,250,275,300,325,350,375,400,425,450,475,500],
           "labelExpr": "datum.value == 25 ? '25.000' : format(datum.value, '.2f')", "grid": true, "tickSize": 4, "labelPadding": 2, "domainColor": "#a0a0a0"}},
       "y2": {"field": "p2"}}},
    {"data": {"name": "box"}, "transform": [{"filter": "datum.g == 'gbox2'"}],
     "mark": {"type": "rect", "fill": null, "stroke": "#22dd22", "strokeWidth": 1.5},
     "encoding": {"x2": {"field": "t2"}, "y": {"field": "p", "type": "quantitative", "title": null}, "y2": {"field": "p2"}}},
    {"data": {"name": "seg"}, "transform": [{"filter": "datum.g == 'gray'"}],
     "mark": {"type": "line", "color": "#b8b8b8", "strokeWidth": 1.5, "strokeDash": [14, 8]},
     "encoding": {"y": {"field": "p", "type": "quantitative", "title": null}, "detail": {"field": "id"}}},
    {"data": {"name": "px"},
     "mark": {"type": "rule", "strokeWidth": 1},
     "encoding": {"y": {"field": "l", "type": "quantitative", "title": null}, "y2": {"field": "h"},
       "color": {"condition": {"test": "datum.c >= datum.o", "value": "#000000"}, "value": "#ff0000"}}},
    {"data": {"name": "px"},
     "mark": {"type": "bar", "width": 3},
     "encoding": {"y": {"field": "o", "type": "quantitative", "title": null}, "y2": {"field": "c"},
       "color": {"condition": {"test": "datum.c >= datum.o", "value": "#000000"}, "value": "#ff0000"}}},
    {"data": {"name": "seg"}, "transform": [{"filter": "datum.g == 'gdot'"}],
     "mark": {"type": "line", "color": "#00dd00", "strokeWidth": 1.5, "strokeDash": [4, 3]},
     "encoding": {"y": {"field": "p", "type": "quantitative", "title": null}, "detail": {"field": "id"}}},
    {"data": {"name": "seg"}, "transform": [{"filter": "datum.g == 'blue'"}],
     "mark": {"type": "line", "color": "#0000c8", "strokeWidth": 1.5, "strokeDash": [4, 3]},
     "encoding": {"y": {"field": "p", "type": "quantitative", "title": null}, "detail": {"field": "id"}}},
    {"data": {"name": "seg"}, "transform": [{"filter": "datum.g == 'red'"}],
     "mark": {"type": "line", "color": "#ff0000", "strokeWidth": 1.5, "strokeDash": [4, 3]},
     "encoding": {"y": {"field": "p", "type": "quantitative", "title": null}, "detail": {"field": "id"}}},
    {"data": {"name": "seg"}, "transform": [{"filter": "datum.g == 'pur'"}],
     "mark": {"type": "line", "color": "#8000ff", "strokeWidth": 2},
     "encoding": {"y": {"field": "p", "type": "quantitative", "title": null}, "detail": {"field": "id"}}},
    {"data": {"name": "seg"}, "transform": [{"filter": "datum.g == 'ora'"}],
     "mark": {"type": "line", "color": "#ff8040", "strokeWidth": 1.5},
     "encoding": {"y": {"field": "p", "type": "quantitative", "title": null}, "detail": {"field": "id"}}},
    {"data": {"name": "seg"}, "transform": [{"filter": "datum.g == 'sal'"}],
     "mark": {"type": "line", "color": "#ff9088", "strokeWidth": 1.5},
     "encoding": {"y": {"field": "p", "type": "quantitative", "title": null}, "detail": {"field": "id"}}},
    {"data": {"name": "seg"}, "transform": [{"filter": "datum.g == 'grn'"}],
     "mark": {"type": "line", "color": "#00dd00", "strokeWidth": 1.5},
     "encoding": {"y": {"field": "p", "type": "quantitative", "title": null}, "detail": {"field": "id"}}},
    {"data": {"name": "seg"}, "transform": [{"filter": "datum.g == 'dg'"}],
     "mark": {"type": "line", "color": "#008000", "strokeWidth": 1},
     "encoding": {"y": {"field": "p", "type": "quantitative", "title": null}, "detail": {"field": "id"}}},
    {"data": {"name": "note"}, "transform": [{"filter": "datum.g == 'date'"}],
     "mark": {"type": "text", "align": "left", "baseline": "middle", "fontSize": 12, "color": "#000"},
     "encoding": {"y": {"field": "p", "type": "quantitative", "title": null}, "text": {"field": "s"}}},
    {"data": {"name": "note"}, "transform": [{"filter": "datum.g == 'title'"}],
     "mark": {"type": "text", "align": "left", "baseline": "middle", "fontSize": 13, "fontWeight": "bold", "color": "#000"},
     "encoding": {"y": {"field": "p", "type": "quantitative", "title": null}, "text": {"field": "s"}}},
    {"data": {"name": "note"}, "transform": [{"filter": "datum.g == 'disc'"}],
     "mark": {"type": "text", "align": "left", "baseline": "middle", "fontSize": 10.2, "font": "Liberation Serif", "color": "#000"},
     "encoding": {"y": {"field": "p", "type": "quantitative", "title": null}, "text": {"field": "s"}}},
    {"data": {"name": "note"}, "transform": [{"filter": "datum.g == 'dbr'"}],
     "mark": {"type": "text", "align": "right", "baseline": "middle", "fontSize": 12, "color": "#1e96a0"},
     "encoding": {"y": {"field": "p", "type": "quantitative", "title": null}, "text": {"field": "s"}}},
    {"data": {"name": "box"}, "transform": [{"filter": "datum.g == 'pbox'"}],
     "mark": {"type": "rect", "fill": "#0000ff", "clip": false},
     "encoding": {"x2": {"field": "t2"}, "y": {"field": "p", "type": "quantitative", "title": null}, "y2": {"field": "p2"}}},
    {"data": {"name": "note"}, "transform": [{"filter": "datum.g == 'price'"}],
     "mark": {"type": "text", "align": "left", "baseline": "middle", "fontSize": 13.5, "color": "#ffffff", "clip": false},
     "encoding": {"y": {"field": "p", "type": "quantitative", "title": null}, "text": {"field": "s"}}},
    {"data": {"name": "note"}, "transform": [{"filter": "datum.g == 'icon'"}],
     "mark": {"type": "text", "align": "center", "baseline": "middle", "fontSize": 11, "font": "DejaVu Sans", "color": "#999999", "clip": false},
     "encoding": {"y": {"field": "p", "type": "quantitative", "title": null}, "text": {"field": "s"}}}
  ]
},
{
  "width": 1837, "height": 91,
  "view": {"stroke": "#909090"},
  "encoding": {
    "x": {"field": "t", "type": "temporal", "title": null,
      "scale": {"type": "utc", "domain": [{"year": 2019, "month": 1, "date": 12, "utc": true}, {"year": 2026, "month": 8, "date": 20, "utc": true}]},
      "axis": {"labels": false, "ticks": false, "domain": false, "grid": true, "tickCount": {"interval": "month", "step": 2}, "minExtent": 0, "maxExtent": 0}}
  },
  "layer": [
    {"data": {"name": "lv"},
     "mark": {"type": "rule", "color": "#000000", "strokeWidth": 1.5},
     "encoding": {"x": null,
       "y": {"field": "v", "type": "quantitative", "title": null,
         "scale": {"domain": [-4.7, 102.4], "nice": false, "zero": false},
         "axis": {"orient": "right", "values": [25, 50, 75], "format": ".2f", "grid": true, "tickSize": 4, "labelPadding": 2, "domainColor": "#a0a0a0"}}}},
    {"data": {"name": "sto"},
     "mark": {"type": "line", "color": "#000000", "strokeWidth": 1},
     "encoding": {"y": {"field": "k", "type": "quantitative", "title": null}}},
    {"data": {"name": "sto"},
     "mark": {"type": "line", "color": "#ff0000", "strokeWidth": 1},
     "encoding": {"y": {"field": "d", "type": "quantitative", "title": null}}},
    {"data": {"name": "snote"}, "transform": [{"filter": "datum.g == 'lvl'"}],
     "mark": {"type": "text", "align": "center", "baseline": "middle", "fontSize": 12, "color": "#333333"},
     "encoding": {"y": {"field": "v", "type": "quantitative", "title": null}, "text": {"field": "s"}}},
    {"data": {"name": "sbox"}, "transform": [{"filter": "datum.g == 'wbox'"}],
     "mark": {"type": "rect", "fill": "#ffffff", "stroke": "#000000", "strokeWidth": 1},
     "encoding": {"x2": {"field": "t2"}, "y": {"field": "v", "type": "quantitative", "title": null}, "y2": {"field": "v2"}}},
    {"data": {"name": "snote"}, "transform": [{"filter": "datum.g == 'sto'"}],
     "mark": {"type": "text", "align": "center", "baseline": "middle", "fontSize": 12, "color": "#000000"},
     "encoding": {"y": {"field": "v", "type": "quantitative", "title": null}, "text": {"field": "s"}}},
    {"data": {"name": "snote"}, "transform": [{"filter": "datum.g == 'plus'"}],
     "mark": {"type": "text", "align": "center", "baseline": "middle", "fontSize": 14, "fontWeight": "bold", "color": "#000000"},
     "encoding": {"y": {"field": "v", "type": "quantitative", "title": null}, "text": {"field": "s"}}},
    {"data": {"name": "snote"}, "transform": [{"filter": "datum.g == 'k'"}],
     "mark": {"type": "text", "align": "left", "baseline": "middle", "fontSize": 12, "color": "#333333"},
     "encoding": {"y": {"field": "v", "type": "quantitative", "title": null}, "text": {"field": "s"}}},
    {"data": {"name": "snote"}, "transform": [{"filter": "datum.g == 'd'"}],
     "mark": {"type": "text", "align": "left", "baseline": "middle", "fontSize": 12, "color": "#ff0000"},
     "encoding": {"y": {"field": "v", "type": "quantitative", "title": null}, "text": {"field": "s"}}},
    {"data": {"name": "sbox"}, "transform": [{"filter": "datum.g == 'rbox'"}],
     "mark": {"type": "rect", "fill": "#ff0000", "clip": false},
     "encoding": {"x2": {"field": "t2"}, "y": {"field": "v", "type": "quantitative", "title": null}, "y2": {"field": "v2"}}},
    {"data": {"name": "sbox"}, "transform": [{"filter": "datum.g == 'kbox'"}],
     "mark": {"type": "rect", "fill": "#000000", "clip": false},
     "encoding": {"x2": {"field": "t2"}, "y": {"field": "v", "type": "quantitative", "title": null}, "y2": {"field": "v2"}}},
    {"data": {"name": "snote"}, "transform": [{"filter": "datum.g == 'val'"}],
     "mark": {"type": "text", "align": "left", "baseline": "middle", "fontSize": 13.5, "color": "#ffffff", "clip": false},
     "encoding": {"y": {"field": "v", "type": "quantitative", "title": null}, "text": {"field": "s"}}}
  ]
},
{
  "width": 1837, "height": 16,
  "view": {"stroke": "#303030"},
  "encoding": {
    "x": {"field": "t", "type": "temporal", "title": null,
      "scale": {"type": "utc", "domain": [{"year": 2019, "month": 1, "date": 12, "utc": true}, {"year": 2026, "month": 8, "date": 20, "utc": true}]},
      "axis": {"tickCount": {"interval": "month", "step": 2}, "ticks": false, "tickSize": 0, "domain": false, "grid": false,
        "labelExpr": "datum.value < 1554000000000 ? '' : utcFormat(datum.value, '%m %y')",
        "labelPadding": -14, "labelBaseline": "top", "labelOverlap": false, "labelBound": false, "labelFlush": false, "zindex": 1, "minExtent": 0, "maxExtent": 0}}
  },
  "layer": [
    {"data": {"name": "band"},
     "mark": {"type": "rect", "fill": "#b0d4f4"},
     "encoding": {"x2": {"field": "t2"}}},
    {"data": {"name": "zsep"},
     "mark": {"type": "rule", "color": "#606060", "strokeWidth": 1},
     "encoding": {}},
    {"data": {"name": "snote2"},
     "mark": {"type": "text", "align": "center", "baseline": "middle", "fontSize": 12, "color": "#000000"},
     "encoding": {"text": {"field": "s"}}}
  ]
}
],
"spacing": 0,
"bounds": "flush"
}
